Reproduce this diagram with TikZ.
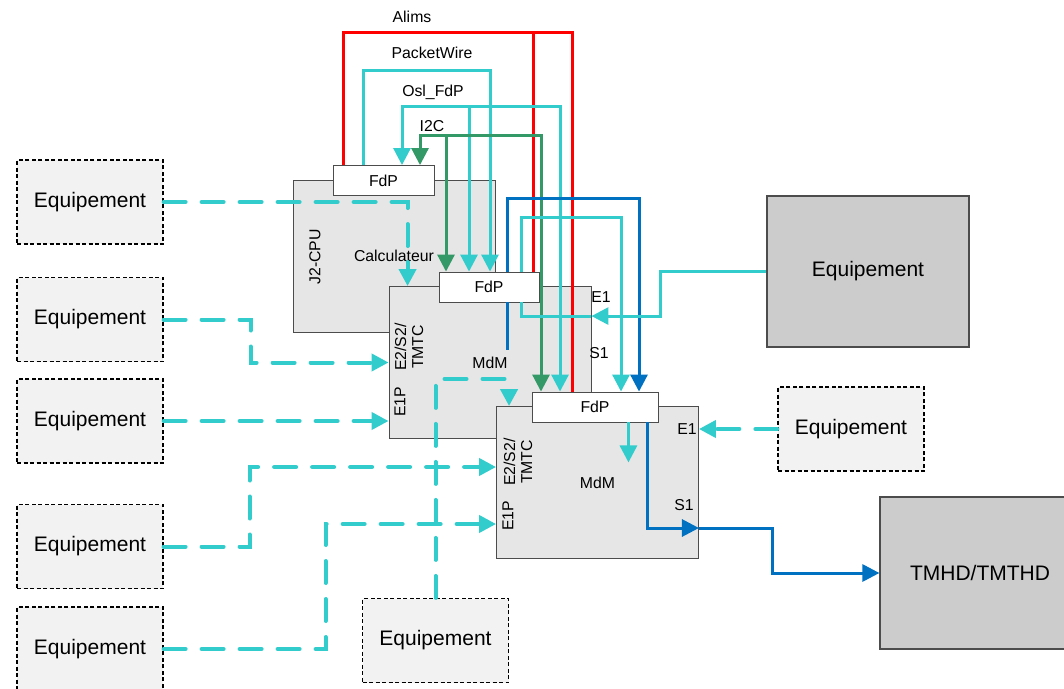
\documentclass[tikz,border=0pt]{standalone}
\usepackage{fontspec}
\setmainfont{Liberation Sans}
\usetikzlibrary{arrows.meta,calc}

\definecolor{busCyan}{HTML}{33CCCC}
\definecolor{busRed}{HTML}{FF0000}
\definecolor{busGreen}{HTML}{339966}
\definecolor{busBlue}{HTML}{0070C0}
\definecolor{moduleGray}{HTML}{E6E6E6}
\definecolor{eqGray}{HTML}{F2F2F2}
\definecolor{solidGray}{HTML}{CCCCCC}

\newcommand{\eqfont}{\fontsize{21}{25}\selectfont}
\newcommand{\lblfont}{\fontsize{15.8}{17}\selectfont}

\begin{document}
\begin{tikzpicture}[x=1pt, y=-1pt, >={Triangle[length=17pt, width=17pt]},
    module/.style={draw=black!70, fill=moduleGray, line width=0.9pt, minimum width=202pt, minimum height=152pt, inner sep=0pt, font=\lblfont},
    fdpbox/.style={draw=black!70, fill=white, line width=0.9pt, minimum height=30pt, inner sep=0pt, font=\lblfont},
    eqbox/.style={draw=black, fill=eqGray, line width=1.2pt, dash pattern=on 4pt off 2.5pt, minimum width=146pt, minimum height=84pt, font=\eqfont},
    eqsolid/.style={draw=black!70, fill=solidGray, line width=1.2pt, inner sep=0pt, font=\eqfont},
    port/.style={font=\lblfont, inner sep=0pt},
    data/.style={busCyan, line width=3pt},
    alim/.style={busRed, line width=3pt},
    i2c/.style={busGreen, line width=3pt},
    tm/.style={busBlue, line width=3pt},
    link/.style={busCyan, line width=4pt, dash pattern=on 22pt off 16pt, line cap=round}]

    \useasboundingbox (0,0) rectangle (1064,688);

    % modules
    \node[module] (cpu) at (394,256) {Calculateur};
    \node[fdpbox, minimum width=101pt] (fdp1) at (383.5,180.5) {FdP};
    \node[port, rotate=90] (cpuTag) at (315,257) {J2-CPU};

    \node[module] (modA) at (490,362.5) {MdM};
    \node[fdpbox, minimum width=100pt] (fdp2) at (489,287) {FdP};
    \node[port, rotate=90, align=center] (tagA) at (409,347) {E2/S2/\\TMTC};
    \node[port, rotate=90] (e1pA) at (400,402) {E1P};
    \node[port] (e1A) at (601,297) {E1};
    \node[port] (s1A) at (599,353) {S1};

    \node[module] (modB) at (597.5,482.5) {MdM};
    \node[fdpbox, minimum width=126pt] (fdp3) at (595,407) {FdP};
    \node[port, rotate=90, align=center] (tagB) at (518,462) {E2/S2/\\TMTC};
    \node[port, rotate=90] (e1pB) at (508,516) {E1P};
    \node[port] (e1B) at (687,429) {E1};
    \node[port] (s1B) at (684,505) {S1};

    % equipements
    \node[eqbox] (eqA) at (90,202) {Equipement};
    \node[eqbox] (eqB) at (90,319.5) {Equipement};
    \node[eqbox] (eqC) at (90,421) {Equipement};
    \node[eqbox] (eqD) at (90,546.5) {Equipement};
    \node[eqbox] (eqE) at (90,649) {Equipement};
    \node[eqbox] (eqF) at (435.5,640.5) {Equipement};
    \node[eqbox] (eqG) at (851,429) {Equipement};
    \node[eqsolid, minimum width=202pt, minimum height=151pt] (eqH) at (868,271.5) {Equipement};
    \node[eqsolid, minimum width=200pt, minimum height=152pt] (tmhd) at (980,573) {TMHD/TMTHD};

    % buses
    \node[port] (alimsLbl) at (412,17) {Alims};
    \node[port] (pwLbl) at (432,53) {PacketWire};
    \node[port] (oslLbl) at (433,92) {Osl\_FdP};
    \node[port] (i2cLbl) at (432,126) {I2C};

    \coordinate (alimL) at (343,32);
    \coordinate (alimM) at (533,32);
    \coordinate (alimR) at (572,32);
    \coordinate (pwL) at (363,70);
    \coordinate (pwR) at (490,70);
    \coordinate (oslL) at (402,106);
    \coordinate (oslM) at (469,106);
    \coordinate (oslR) at (560,106);
    \coordinate (i2cL) at (420,135);
    \coordinate (i2cM) at (446,135);
    \coordinate (i2cR) at (541,135);
    \coordinate (tmL) at (507,198);
    \coordinate (tmR) at (639,198);
    \coordinate (dataL) at (521,217);
    \coordinate (dataR) at (621,217);

    \draw[alim] (alimL |- fdp1.north) |- (alimR) -- (alimR |- fdp3.north);
    \draw[alim] (alimM) -- (alimM |- fdp2.north);
    \draw[data, ->] (pwL |- fdp1.north) |- (pwR) -- (pwR |- fdp2.north);
    \draw[data, <->] (oslL |- fdp1.north) |- (oslR) -- (oslR |- fdp3.north);
    \draw[data, ->] (oslM) -- (oslM |- fdp2.north);
    \draw[i2c, <->] (i2cL |- fdp1.north) |- (i2cR) -- (i2cR |- fdp3.north);
    \draw[i2c, ->] (i2cM) -- (i2cM |- fdp2.north);
    \draw[tm, ->] (tmL |- fdp2.north) |- (tmR) -- (tmR |- fdp3.north);
    \draw[tm] (tmL |- fdp2.south) -- ++(0,48);
    \draw[data, ->] (dataL |- fdp2.north) |- (dataR) -- (dataR |- fdp3.north);

    % ports
    \coordinate (inE1A) at ($(modA.north east)+(0,30)$);
    \coordinate (outS1B) at ($(modB.east)+(0,45.5)$);
    \draw[data, ->] (eqH.west) -- ++(-106,0) |- (inE1A);
    \draw[data] (inE1A) -| (dataL |- fdp2.south);
    \draw[data, ->] ($(fdp3.south east)+(-30,0)$) -- ++(0,40);
    \draw[tm, ->] ($(fdp3.south east)+(-11,0)$) |- (outS1B);
    \draw[tm, ->] (outS1B) -- ++(74,0) |- (tmhd.west);

    \draw[link, ->] (eqA.east) -| ($(modA.north west)+(19,0)$);
    \draw[link, ->] (eqB.east) -- ++(87,0) |- (modA.west);
    \draw[link, ->] (eqC.east) -- (eqC.east -| modA.west);
    \draw[link, ->] (eqD.east) -- ++(86,0) |- ($(modB.west)+(0,-15.5)$);
    \draw[link, ->] (eqE.east) -- ++(162,0) |- ($(modB.west)+(0,41.5)$);
    \draw[link, ->] (eqF.north) -- ++(0,-219) -| ($(modB.north west)+(13,0)$);
    \draw[link, ->] (eqG.west) -- (eqG.west -| modB.east);
\end{tikzpicture}
\end{document}
